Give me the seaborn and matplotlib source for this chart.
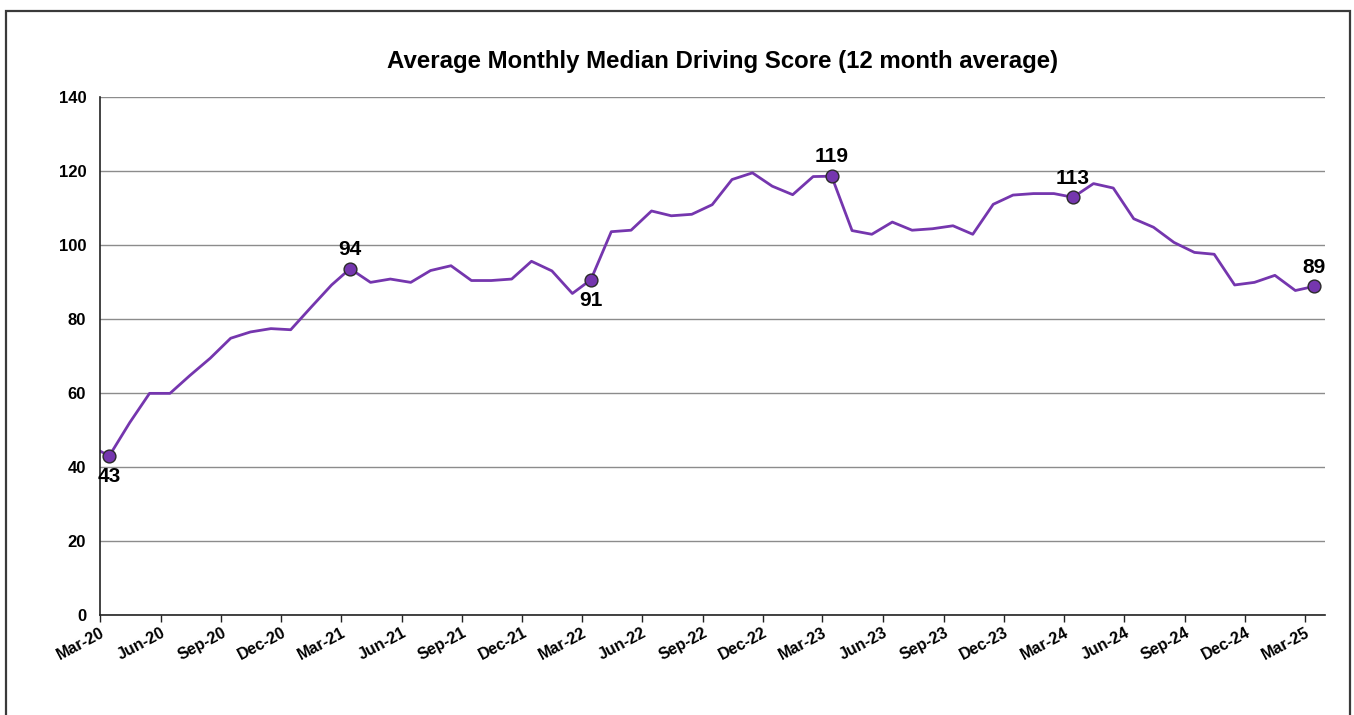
import numpy as np
import pandas as pd
import matplotlib
matplotlib.use("Agg")
import matplotlib.pyplot as plt
import matplotlib.dates as mdates
import seaborn as sns

# Monthly values (12 month average), Feb-20 .. Mar-25
months = pd.date_range("2020-02-01", "2025-03-01", freq="MS")
scores = [
    45.7,
    43.0, 52.0, 59.9, 59.9, 64.7, 69.4, 74.8, 76.5, 77.4, 77.1,
    83.2, 89.2, 93.6, 89.9, 90.8, 89.9, 93.1, 94.4, 90.4, 90.4, 90.8, 95.6,
    93.0, 86.9, 90.6, 103.6, 104.0, 109.2, 107.9, 108.3, 110.9, 117.7, 119.5, 115.9,
    113.6, 118.5, 118.6, 103.9, 102.9, 106.2, 104.0, 104.4, 105.2, 102.9, 111.0, 113.5,
    113.9, 113.9, 112.9, 116.6, 115.4, 107.1, 104.8, 100.7, 98.0, 97.5, 89.2, 89.9,
    91.8, 87.7, 88.8,
]
# labelled points and where the label sits
label_months = ["2020-03", "2021-03", "2022-03", "2023-03", "2024-03", "2025-03"]
label_text = ["43", "94", "91", "119", "113", "89"]
label_side = ["below", "above", "below", "above", "above", "above"]

df = pd.DataFrame({"date": months + pd.Timedelta(days=14), "score": scores})
df["key"] = months.strftime("%Y-%m")

sns.set_style("white")
plt.rcParams["font.family"] = ["Liberation Sans", "DejaVu Sans"]
plt.rcParams["font.weight"] = "bold"
plt.rcParams["text.color"] = "black"
plt.rcParams["xtick.color"] = "black"
plt.rcParams["ytick.color"] = "black"

purple = "#7536AE"

fig = plt.figure(figsize=(13.54, 7.15), dpi=100)
ax = fig.add_axes([0.0739, 0.1399, 0.9047, 0.7244])

sns.lineplot(data=df, x="date", y="score", color=purple, linewidth=2.0, ax=ax)

pts = df[df["key"].isin(label_months)]
sns.scatterplot(data=pts, x="date", y="score", color=purple, s=85,
                edgecolor="#2a2a2a", linewidth=1.0, zorder=5, ax=ax)

for m, t, side in zip(label_months, label_text, label_side):
    row = df[df["key"] == m].iloc[0]
    dy = 7 if side == "above" else -8
    ax.annotate(t, (row["date"], row["score"]), xytext=(0, dy),
                textcoords="offset points", ha="center",
                va="bottom" if side == "above" else "top",
                fontsize=15, fontweight="bold", color="black")

ax.set_ylim(0, 140)
ax.set_yticks(range(0, 141, 20))
ax.set_xlim(pd.Timestamp("2020-03-01"), pd.Timestamp("2025-04-01"))
ax.xaxis.set_major_locator(mdates.MonthLocator(bymonth=[3, 6, 9, 12]))
ax.xaxis.set_major_formatter(mdates.DateFormatter("%b-%y"))

ax.grid(axis="y", color="#8c8c8c", linewidth=1.0)
ax.grid(axis="x", visible=False)
for s in ["top", "right"]:
    ax.spines[s].set_visible(False)
for s in ["left", "bottom"]:
    ax.spines[s].set_color("#222222")
    ax.spines[s].set_linewidth(1.2)

ax.tick_params(axis="x", length=5, width=1, color="#222222", direction="out",
               bottom=True, labelsize=11.5, pad=2)
ax.tick_params(axis="y", length=0, labelsize=12, pad=10)
for lab in ax.get_xticklabels():
    lab.set_rotation(28)
    lab.set_ha("right")
    lab.set_rotation_mode("anchor")
    lab.set_fontweight("bold")
for lab in ax.get_yticklabels():
    lab.set_fontweight("bold")

ax.set_xlabel("")
ax.set_ylabel("")
fig.text(0.534, 0.914, "Average Monthly Median Driving Score (12 month average)",
         ha="center", va="center", fontsize=17.3, fontweight="bold")

# outer chart frame
frame = plt.Rectangle((0.0048, -0.05), 0.992, 1.0346, transform=fig.transFigure,
                      fill=False, edgecolor="#3a3a3a", linewidth=1.6)
fig.patches.append(frame)

fig.savefig("out.png", dpi=100)
